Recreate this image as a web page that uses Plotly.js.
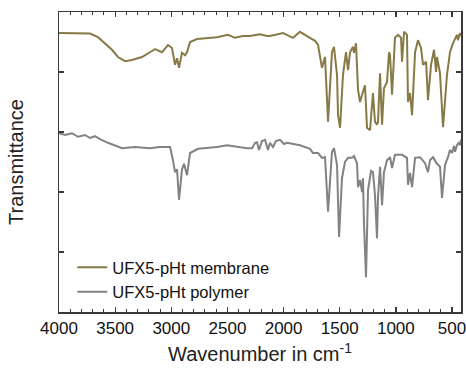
<!DOCTYPE html>
<html>
<head>
<meta charset="utf-8">
<script src="https://cdn.plot.ly/plotly-3.0.1.min.js"></script>
<style>
  html, body { margin: 0; padding: 0; background: #fff; }
  #chart { width: 466px; height: 369px; }
</style>
</head>
<body>
<div id="chart"></div>
<script>
// FTIR spectra, wavenumber (cm-1) vs. transmittance (arbitrary, offset units)
var membraneWavenumber = [
  4000, 3858, 3724, 3653, 3590, 3528, 3475, 3412, 3350, 3261, 3172, 3145, 3083, 3029, 2994,
  2967, 2949, 2931, 2905, 2878, 2860, 2833, 2771, 2593, 2495, 2433, 2361, 2299, 2210, 2148,
  2121, 2005, 1916, 1854, 1765, 1720, 1693, 1658, 1631, 1604, 1569, 1551, 1524, 1515, 1497,
  1471, 1444, 1426, 1408, 1382, 1373, 1355, 1337, 1319, 1301, 1275, 1257, 1230, 1204, 1186,
  1168, 1159, 1141, 1123, 1106, 1079, 1061, 1052, 1034, 1008, 981, 954, 945, 927, 901,
  892, 874, 856, 829, 803, 776, 758, 731, 714, 687, 660, 642, 634, 607, 580,
  545, 518, 491, 456, 447, 429, 420
];
var membraneTransmittance = [
  46.5, 46.5, 46.4, 45.8, 44.8, 43.7, 42.5, 41.8, 42.0, 42.5, 43.5, 43.8, 43.3, 44.5, 44.0,
  41.2, 42.3, 40.7, 43.2, 42.8, 43.3, 45.0, 45.5, 45.8, 46.2, 45.7, 46.0, 46.0, 46.3, 46.0,
  46.0, 46.5, 45.7, 46.7, 45.7, 45.2, 44.5, 40.7, 42.5, 31.7, 43.3, 44.2, 39.5, 32.8, 30.7,
  39.5, 43.3, 40.3, 43.3, 44.2, 43.2, 44.8, 37.0, 35.0, 36.2, 37.8, 30.7, 30.3, 36.5, 31.7,
  31.2, 31.7, 39.8, 31.2, 37.3, 38.3, 43.3, 42.8, 36.2, 45.7, 46.2, 45.7, 41.7, 46.7, 46.2,
  35.0, 36.5, 32.8, 43.3, 45.3, 44.0, 41.2, 41.7, 35.3, 41.2, 43.7, 40.0, 42.5, 39.8, 30.8,
  39.5, 43.3, 44.8, 46.2, 45.3, 46.5, 46.0
];

var polymerWavenumber = [
  4000, 3947, 3884, 3831, 3768, 3724, 3679, 3635, 3564, 3501, 3439, 3323, 3190, 3101, 3011,
  2985, 2967, 2949, 2931, 2905, 2887, 2860, 2833, 2762, 2593, 2504, 2326, 2281, 2254, 2237,
  2219, 2192, 2165, 2139, 2121, 2094, 2068, 2032, 1996, 1969, 1854, 1765, 1738, 1693, 1658,
  1631, 1604, 1569, 1551, 1524, 1515, 1506, 1480, 1453, 1426, 1391, 1373, 1346, 1337, 1319,
  1301, 1293, 1284, 1266, 1248, 1221, 1204, 1186, 1168, 1159, 1141, 1123, 1106, 1079, 1052,
  1034, 1008, 945, 901, 892, 874, 856, 829, 785, 740, 714, 696, 669, 634, 607,
  589, 562, 536, 518, 500, 482, 473, 456, 438, 429, 420
];
var polymerTransmittance = [
  29.8, 29.5, 29.8, 29.2, 29.5, 29.0, 29.3, 28.8, 28.2, 27.8, 27.3, 27.5, 27.3, 27.5, 27.5,
  25.3, 23.3, 23.8, 18.7, 23.7, 24.7, 22.8, 26.5, 27.2, 27.5, 27.8, 27.3, 27.3, 28.2, 28.3,
  27.0, 28.5, 28.7, 27.0, 28.2, 27.5, 28.5, 28.7, 28.0, 28.2, 27.8, 27.2, 26.5, 26.5, 25.7,
  25.8, 16.7, 26.7, 27.3, 24.5, 18.7, 12.5, 22.3, 25.0, 25.7, 25.7, 26.0, 24.8, 20.8, 22.0,
  20.0, 22.3, 14.8, 5.8, 20.3, 23.5, 23.3, 19.5, 12.3, 19.2, 24.2, 17.8, 23.3, 25.3, 25.8,
  24.0, 26.2, 26.2, 25.7, 21.2, 23.2, 20.8, 25.7, 25.8, 24.8, 23.3, 25.3, 25.8, 24.7, 24.2,
  19.0, 24.5, 25.8, 27.0, 26.5, 27.7, 26.7, 27.8, 28.3, 27.8, 28.7
];

var seriesNames = ['UFX5-pHt membrane', 'UFX5-pHt polymer'];
var xTickValues = [4000, 3500, 3000, 2500, 2000, 1500, 1000, 500];

var fontFamily = 'Arial, "Liberation Sans", sans-serif';
var axisColor = '#3a3a3a';

var traces = [
  {
    x: membraneWavenumber, y: membraneTransmittance, name: seriesNames[0],
    type: 'scatter', mode: 'lines',
    line: { color: '#877a47', width: 2 }
  },
  {
    x: polymerWavenumber, y: polymerTransmittance, name: seriesNames[1],
    type: 'scatter', mode: 'lines',
    line: { color: '#828282', width: 2 }
  }
];

var layout = {
  width: 466, height: 369,
  margin: { l: 59, r: 5, t: 12, b: 57 },
  paper_bgcolor: '#fff', plot_bgcolor: '#fff',
  font: { family: fontFamily, color: '#222', size: 17 },
  showlegend: true,
  legend: {
    x: 0.033, y: 0.01, xanchor: 'left', yanchor: 'bottom',
    bgcolor: 'rgba(0,0,0,0)', borderwidth: 0,
    font: { family: fontFamily, size: 16.5, color: '#111' },
    tracegroupgap: 0
  },
  xaxis: {
    range: [4000, 420], autorange: false,
    tickvals: xTickValues, ticktext: xTickValues.map(String),
    ticklabeloverflow: 'allow',
    ticks: 'inside', ticklen: 5, tickwidth: 1.3, tickcolor: axisColor,
    minor: { dtick: 100, tick0: 0, ticks: 'inside', ticklen: 3, tickwidth: 1, tickcolor: axisColor },
    showline: true, linecolor: axisColor, linewidth: 1.5, mirror: 'ticks',
    showgrid: false, zeroline: false,
    tickfont: { size: 17, color: '#111' },
    title: { text: 'Wavenumber in cm<sup>-1</sup>', font: { size: 20, color: '#222' }, standoff: 10 }
  },
  yaxis: {
    range: [0, 50], autorange: false, dtick: 10, tick0: 0,
    ticks: 'inside', ticklen: 5, tickwidth: 1.3, tickcolor: axisColor,
    showticklabels: false,
    showline: true, linecolor: axisColor, linewidth: 1.5, mirror: 'ticks',
    showgrid: false, zeroline: false,
    title: { text: 'Transmittance', font: { size: 20, color: '#222' }, standoff: 28 }
  }
};

Plotly.newPlot('chart', traces, layout, { displayModeBar: false, staticPlot: true });
</script>
</body>
</html>
